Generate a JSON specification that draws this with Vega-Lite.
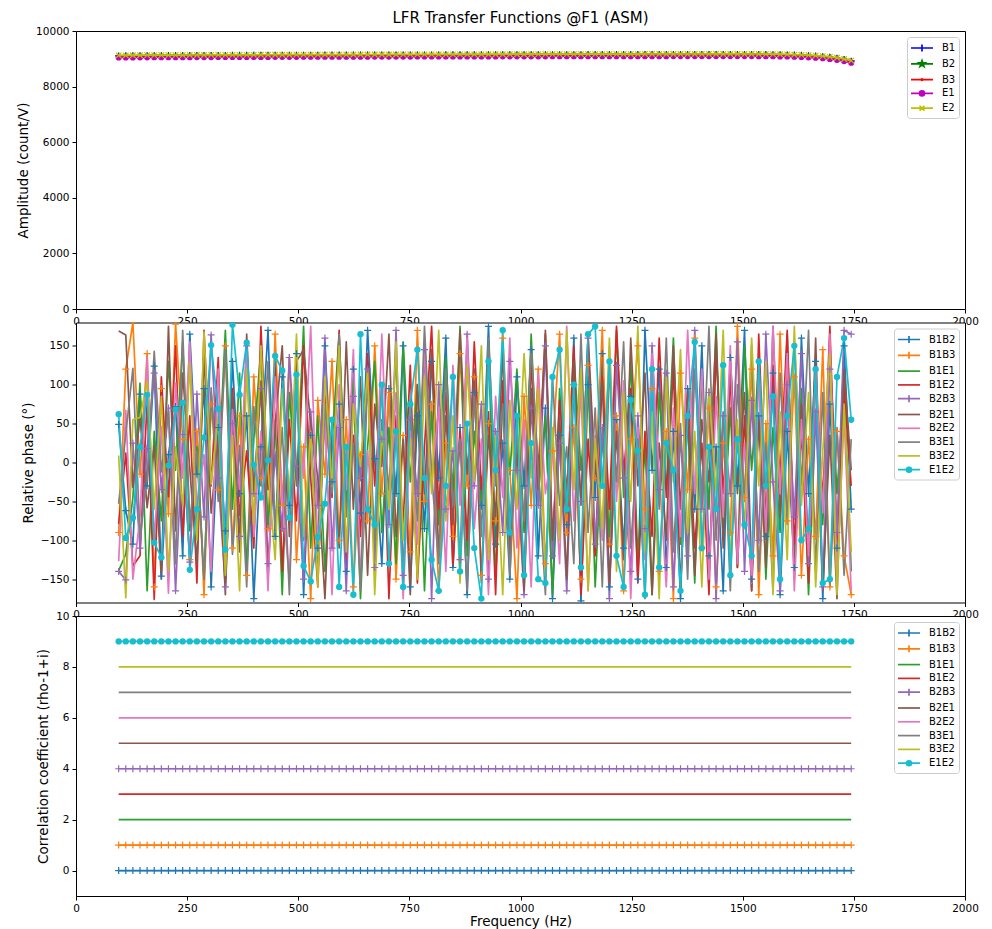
{
"$schema": "https://vega.github.io/schema/vega-lite/v6.json",
"autosize": {"type": "pad"},
"padding": {"left": 16, "top": 10, "right": 5, "bottom": 5},
"background": "white",
"bounds": "flush",
"spacing": 13.5,
"config": {
  "font": "DejaVu Sans",
  "view": {"stroke": "#000000", "strokeWidth": 1, "fill": "white"},
  "axis": {"grid": false, "domain": false, "tickColor": "#000000", "tickSize": 4, "tickWidth": 1, "labelColor": "#000000", "labelFontSize": 10.5, "labelFont": "DejaVu Sans", "titleFont": "DejaVu Sans", "titleFontSize": 13.5, "titleFontWeight": "normal", "titleColor": "#000000", "labelPadding": 3, "titlePadding": 5, "labelFlush": false, "labelOverlap": false, "format": "d", "labelExpr": "replace(datum.label, '-', '−')"},
  "legend": {"orient": "top-right", "offset": 6, "padding": 3, "strokeColor": "#cccccc", "fillColor": "#ffffff", "cornerRadius": 3, "labelFontSize": 10, "labelColor": "#000000", "labelFont": "DejaVu Sans", "symbolSize": 196, "symbolStrokeWidth": 1.7, "symbolOpacity": 1, "symbolOffset": 4, "rowPadding": 0.8, "labelOffset": 12}
},
"datasets": {
"tf": [
{"f":96,"B1":9105,"B2":9095,"B3":9087,"E1":9047,"E2":9123,"B1B2":49,"B1B3":-90,"B1E1":-139,"B1E2":-79,"B2B3":-140,"B2E1":169,"B2E2":-127,"B3E1":-53,"B3E2":9,"E1E2":62},
{"f":112,"B1":9107,"B2":9097,"B3":9089,"E1":9049,"E2":9125,"B1B2":-62,"B1B3":120,"B1E1":-118,"B1E2":12,"B2B3":-151,"B2E1":164,"B2E2":67,"B3E1":37,"B3E2":-174,"E1E2":-97},
{"f":128,"B1":9109,"B2":9099,"B3":9091,"E1":9051,"E2":9127,"B1B2":-105,"B1B3":180,"B1E1":-45,"B1E2":-133,"B2B3":25,"B2E1":-32,"B2E2":-150,"B3E1":121,"B3E2":55,"E1E2":-71},
{"f":144,"B1":9110,"B2":9100,"B3":9092,"E1":9052,"E2":9128,"B1B2":88,"B1B3":-15,"B1E1":102,"B1E2":-120,"B2B3":-110,"B2E1":60,"B2E2":-70,"B3E1":-95,"B3E2":58,"E1E2":20},
{"f":160,"B1":9112,"B2":9102,"B3":9094,"E1":9054,"E2":9130,"B1B2":-30,"B1B3":140,"B1E1":-165,"B1E2":80,"B2B3":18,"B2E1":-58,"B2E2":136,"B3E1":-20,"B3E2":104,"E1E2":87},
{"f":176,"B1":9113,"B2":9103,"B3":9095,"E1":9055,"E2":9131,"B1B2":124,"B1B3":-160,"B1E1":40,"B1E2":-176,"B2B3":115,"B2E1":22,"B2E2":-101,"B3E1":143,"B3E2":-60,"E1E2":-103},
{"f":192,"B1":9114,"B2":9104,"B3":9096,"E1":9056,"E2":9132,"B1B2":-146,"B1B3":95,"B1E1":-75,"B1E2":110,"B2B3":-35,"B2E1":-150,"B2E2":46,"B3E1":-12,"B3E2":85,"E1E2":-122},
{"f":208,"B1":9115,"B2":9105,"B3":9097,"E1":9057,"E2":9133,"B1B2":10,"B1B3":-66,"B1E1":130,"B1E2":-44,"B2B3":70,"B2E1":175,"B2E2":-168,"B3E1":66,"B3E2":-140,"E1E2":-4},
{"f":224,"B1":9116,"B2":9106,"B3":9098,"E1":9058,"E2":9134,"B1B2":72,"B1B3":178,"B1E1":-10,"B1E2":150,"B2B3":-165,"B2E1":-88,"B2E2":102,"B3E1":-130,"B3E2":20,"E1E2":68},
{"f":240,"B1":9117,"B2":9107,"B3":9099,"E1":9059,"E2":9135,"B1B2":-120,"B1B3":30,"B1E1":155,"B1E2":-95,"B2B3":36,"B2E1":115,"B2E2":-20,"B3E1":170,"B3E2":-55,"E1E2":77},
{"f":256,"B1":9118,"B2":9108,"B3":9100,"E1":9060,"E2":9136,"B1B2":165,"B1B3":-125,"B1E1":-88,"B1E2":60,"B2B3":-128,"B2E1":-8,"B2E2":155,"B3E1":-78,"B3E2":128,"E1E2":-138},
{"f":272,"B1":9119,"B2":9109,"B3":9101,"E1":9061,"E2":9137,"B1B2":-15,"B1B3":40,"B1E1":20,"B1E2":-155,"B2B3":88,"B2E1":-130,"B2E2":-60,"B3E1":14,"B3E2":-100,"E1E2":-60},
{"f":288,"B1":9120,"B2":9110,"B3":9102,"E1":9062,"E2":9138,"B1B2":95,"B1B3":-170,"B1E1":-150,"B1E2":170,"B2B3":-70,"B2E1":140,"B2E2":10,"B3E1":-150,"B3E2":168,"E1E2":32},
{"f":304,"B1":9121,"B2":9111,"B3":9103,"E1":9063,"E2":9139,"B1B2":-160,"B1B3":75,"B1E1":90,"B1E2":-30,"B2B3":164,"B2E1":-65,"B2E2":-140,"B3E1":96,"B3E2":-28,"E1E2":151},
{"f":320,"B1":9122,"B2":9112,"B3":9104,"E1":9064,"E2":9140,"B1B2":45,"B1B3":-35,"B1E1":-20,"B1E2":135,"B2B3":-20,"B2E1":30,"B2E2":120,"B3E1":-50,"B3E2":60,"E1E2":69},
{"f":336,"B1":9123,"B2":9113,"B3":9105,"E1":9065,"E2":9141,"B1B2":-88,"B1B3":150,"B1E1":170,"B1E2":-150,"B2B3":-160,"B2E1":-170,"B2E2":-120,"B3E1":150,"B3E2":-145,"E1E2":-112},
{"f":352,"B1":9124,"B2":9114,"B3":9106,"E1":9066,"E2":9142,"B1B2":130,"B1B3":-110,"B1E1":-60,"B1E2":95,"B2B3":50,"B2E1":90,"B2E2":68,"B3E1":-118,"B3E2":35,"E1E2":177},
{"f":368,"B1":9124,"B2":9114,"B3":9106,"E1":9066,"E2":9142,"B1B2":-40,"B1B3":60,"B1E1":115,"B1E2":-68,"B2B3":-95,"B2E1":-115,"B2E2":-35,"B3E1":22,"B3E2":-165,"E1E2":87},
{"f":384,"B1":9125,"B2":9115,"B3":9107,"E1":9067,"E2":9143,"B1B2":60,"B1B3":-145,"B1E1":-135,"B1E2":15,"B2B3":150,"B2E1":165,"B2E2":148,"B3E1":-160,"B3E2":120,"E1E2":154},
{"f":400,"B1":9126,"B2":9116,"B3":9108,"E1":9068,"E2":9144,"B1B2":-175,"B1B3":110,"B1E1":30,"B1E2":-110,"B2B3":-40,"B2E1":-40,"B2E2":-95,"B3E1":72,"B3E2":-80,"E1E2":-3},
{"f":416,"B1":9127,"B2":9117,"B3":9109,"E1":9069,"E2":9145,"B1B2":20,"B1B3":-20,"B1E1":145,"B1E2":175,"B2B3":95,"B2E1":105,"B2E2":40,"B3E1":-30,"B3E2":150,"E1E2":-45},
{"f":432,"B1":9127,"B2":9117,"B3":9109,"E1":9069,"E2":9145,"B1B2":170,"B1B3":-85,"B1E1":-85,"B1E2":-35,"B2B3":-130,"B2E1":-150,"B2E2":-165,"B3E1":130,"B3E2":-10,"E1E2":3},
{"f":448,"B1":9128,"B2":9118,"B3":9110,"E1":9070,"E2":9146,"B1B2":-95,"B1B3":165,"B1E1":55,"B1E2":130,"B2B3":10,"B2E1":50,"B2E2":110,"B3E1":-85,"B3E2":-125,"E1E2":137},
{"f":464,"B1":9129,"B2":9119,"B3":9111,"E1":9071,"E2":9147,"B1B2":110,"B1B3":-55,"B1E1":-170,"B1E2":-140,"B2B3":-85,"B2E1":150,"B2E2":-45,"B3E1":45,"B3E2":95,"E1E2":118},
{"f":480,"B1":9129,"B2":9119,"B3":9111,"E1":9071,"E2":9147,"B1B2":-55,"B1B3":135,"B1E1":90,"B1E2":55,"B2B3":135,"B2E1":-95,"B2E2":-150,"B3E1":-170,"B3E2":-50,"E1E2":-71},
{"f":496,"B1":9130,"B2":9120,"B3":9112,"E1":9072,"E2":9148,"B1B2":140,"B1B3":-125,"B1E1":-30,"B1E2":-75,"B2B3":-5,"B2E1":130,"B2E2":85,"B3E1":100,"B3E2":165,"E1E2":113},
{"f":512,"B1":9131,"B2":9121,"B3":9113,"E1":9073,"E2":9149,"B1B2":-170,"B1B3":20,"B1E1":175,"B1E2":150,"B2B3":-150,"B2E1":145,"B2E2":-20,"B3E1":-100,"B3E2":-95,"E1E2":-133},
{"f":528,"B1":9131,"B2":9121,"B3":9113,"E1":9073,"E2":9149,"B1B2":35,"B1B3":-175,"B1E1":-110,"B1E2":-20,"B2B3":65,"B2E1":50,"B2E2":175,"B3E1":30,"B3E2":40,"E1E2":-153},
{"f":544,"B1":9132,"B2":9122,"B3":9114,"E1":9074,"E2":9150,"B1B2":-110,"B1B3":80,"B1E1":60,"B1E2":-160,"B2B3":-55,"B2E1":-20,"B2E2":-115,"B3E1":-145,"B3E2":-160,"E1E2":-96},
{"f":560,"B1":9133,"B2":9123,"B3":9115,"E1":9075,"E2":9151,"B1B2":150,"B1B3":-15,"B1E1":-140,"B1E2":95,"B2B3":160,"B2E1":-175,"B2E2":55,"B3E1":75,"B3E2":110,"E1E2":-53},
{"f":576,"B1":9133,"B2":9123,"B3":9115,"E1":9075,"E2":9151,"B1B2":-25,"B1B3":130,"B1E1":25,"B1E2":-45,"B2B3":-110,"B2E1":40,"B2E2":-170,"B3E1":-40,"B3E2":-30,"E1E2":55},
{"f":592,"B1":9134,"B2":9124,"B3":9116,"E1":9076,"E2":9152,"B1B2":75,"B1B3":-100,"B1E1":165,"B1E2":170,"B2B3":45,"B2E1":-110,"B2E2":100,"B3E1":165,"B3E2":150,"E1E2":-160},
{"f":608,"B1":9134,"B2":9124,"B3":9116,"E1":9076,"E2":9152,"B1B2":-140,"B1B3":55,"B1E1":-60,"B1E2":-125,"B2B3":-165,"B2E1":155,"B2E2":-35,"B3E1":-70,"B3E2":-115,"E1E2":20},
{"f":624,"B1":9135,"B2":9125,"B3":9117,"E1":9077,"E2":9153,"B1B2":120,"B1B3":-160,"B1E1":105,"B1E2":35,"B2B3":85,"B2E1":-60,"B2E2":145,"B3E1":25,"B3E2":75,"E1E2":-170},
{"f":640,"B1":9136,"B2":9126,"B3":9118,"E1":9078,"E2":9154,"B1B2":-65,"B1B3":10,"B1E1":-175,"B1E2":-95,"B2B3":-20,"B2E1":110,"B2E2":-150,"B3E1":-165,"B3E2":-5,"E1E2":165},
{"f":656,"B1":9136,"B2":9126,"B3":9118,"E1":9078,"E2":9154,"B1B2":170,"B1B3":-75,"B1E1":20,"B1E2":140,"B2B3":120,"B2E1":-145,"B2E2":15,"B3E1":110,"B3E2":120,"E1E2":-60},
{"f":672,"B1":9137,"B2":9127,"B3":9119,"E1":9079,"E2":9155,"B1B2":5,"B1B3":150,"B1E1":130,"B1E2":-30,"B2B3":-135,"B2E1":75,"B2E2":-90,"B3E1":-110,"B3E2":-170,"E1E2":-80},
{"f":688,"B1":9137,"B2":9127,"B3":9119,"E1":9079,"E2":9155,"B1B2":-130,"B1B3":-40,"B1E1":-90,"B1E2":100,"B2B3":30,"B2E1":-5,"B2E2":165,"B3E1":55,"B3E2":40,"E1E2":100},
{"f":704,"B1":9138,"B2":9128,"B3":9120,"E1":9080,"E2":9156,"B1B2":95,"B1B3":90,"B1E1":45,"B1E2":-175,"B2B3":-80,"B2E1":165,"B2E2":-60,"B3E1":-35,"B3E2":-60,"E1E2":-130},
{"f":720,"B1":9138,"B2":9128,"B3":9120,"E1":9080,"E2":9156,"B1B2":-40,"B1B3":-150,"B1E1":-130,"B1E2":60,"B2B3":170,"B2E1":-95,"B2E2":90,"B3E1":140,"B3E2":155,"E1E2":40},
{"f":736,"B1":9139,"B2":9129,"B3":9121,"E1":9081,"E2":9157,"B1B2":150,"B1B3":35,"B1E1":155,"B1E2":-80,"B2B3":-145,"B2E1":30,"B2E2":-175,"B3E1":-150,"B3E2":-100,"E1E2":-160},
{"f":752,"B1":9139,"B2":9129,"B3":9121,"E1":9081,"E2":9157,"B1B2":-160,"B1B3":-115,"B1E1":-25,"B1E2":125,"B2B3":55,"B2E1":-170,"B2E2":40,"B3E1":80,"B3E2":30,"E1E2":75},
{"f":768,"B1":9140,"B2":9130,"B3":9122,"E1":9082,"E2":9158,"B1B2":60,"B1B3":170,"B1E1":100,"B1E2":-155,"B2B3":-40,"B2E1":100,"B2E2":-105,"B3E1":-75,"B3E2":-150,"E1E2":145},
{"f":784,"B1":9140,"B2":9130,"B3":9122,"E1":9082,"E2":9158,"B1B2":-85,"B1B3":-50,"B1E1":-165,"B1E2":20,"B2B3":145,"B2E1":-40,"B2E2":150,"B3E1":175,"B3E2":110,"E1E2":-20},
{"f":800,"B1":9141,"B2":9131,"B3":9123,"E1":9083,"E2":9159,"B1B2":130,"B1B3":75,"B1E1":65,"B1E2":175,"B2B3":-175,"B2E1":145,"B2E2":-20,"B3E1":-15,"B3E2":-40,"E1E2":-125},
{"f":816,"B1":9141,"B2":9131,"B3":9123,"E1":9083,"E2":9159,"B1B2":-20,"B1B3":-165,"B1E1":-80,"B1E2":-60,"B2B3":100,"B2E1":-120,"B2E2":70,"B3E1":-130,"B3E2":170,"E1E2":-165},
{"f":832,"B1":9142,"B2":9132,"B3":9124,"E1":9084,"E2":9160,"B1B2":160,"B1B3":25,"B1E1":135,"B1E2":90,"B2B3":-60,"B2E1":60,"B2E2":-140,"B3E1":120,"B3E2":-75,"E1E2":-30},
{"f":848,"B1":9142,"B2":9132,"B3":9124,"E1":9084,"E2":9160,"B1B2":-135,"B1B3":-95,"B1E1":-40,"B1E2":-135,"B2B3":15,"B2E1":-80,"B2E2":125,"B3E1":-55,"B3E2":60,"E1E2":110},
{"f":864,"B1":9143,"B2":9133,"B3":9125,"E1":9085,"E2":9161,"B1B2":45,"B1B3":140,"B1E1":175,"B1E2":40,"B2B3":-125,"B2E1":170,"B2E2":-55,"B3E1":30,"B3E2":-155,"E1E2":-140},
{"f":880,"B1":9143,"B2":9133,"B3":9125,"E1":9085,"E2":9161,"B1B2":-170,"B1B3":-30,"B1E1":-120,"B1E2":-100,"B2B3":165,"B2E1":-15,"B2E2":165,"B3E1":-165,"B3E2":125,"E1E2":50},
{"f":896,"B1":9144,"B2":9134,"B3":9126,"E1":9086,"E2":9162,"B1B2":90,"B1B3":110,"B1E1":40,"B1E2":155,"B2B3":-30,"B2E1":120,"B2E2":-85,"B3E1":90,"B3E2":-25,"E1E2":-110},
{"f":912,"B1":9144,"B2":9134,"B3":9126,"E1":9086,"E2":9162,"B1B2":-55,"B1B3":-145,"B1E1":-60,"B1E2":-35,"B2B3":75,"B2E1":-155,"B2E2":30,"B3E1":-95,"B3E2":150,"E1E2":-175},
{"f":928,"B1":9145,"B2":9135,"B3":9127,"E1":9087,"E2":9163,"B1B2":175,"B1B3":50,"B1E1":150,"B1E2":65,"B2B3":-150,"B2E1":35,"B2E2":-170,"B3E1":160,"B3E2":-125,"E1E2":130},
{"f":944,"B1":9145,"B2":9135,"B3":9127,"E1":9087,"E2":9163,"B1B2":-105,"B1B3":-75,"B1E1":-150,"B1E2":-170,"B2B3":40,"B2E1":-70,"B2E2":85,"B3E1":-30,"B3E2":35,"E1E2":-10},
{"f":960,"B1":9146,"B2":9136,"B3":9128,"E1":9088,"E2":9164,"B1B2":25,"B1B3":160,"B1E1":85,"B1E2":105,"B2B3":-90,"B2E1":145,"B2E2":-45,"B3E1":75,"B3E2":-170,"E1E2":170},
{"f":976,"B1":9146,"B2":9136,"B3":9128,"E1":9088,"E2":9164,"B1B2":-150,"B1B3":-10,"B1E1":-15,"B1E2":-80,"B2B3":130,"B2E1":-120,"B2E2":160,"B3E1":-145,"B3E2":80,"E1E2":-90},
{"f":992,"B1":9147,"B2":9137,"B3":9129,"E1":9089,"E2":9165,"B1B2":110,"B1B3":-175,"B1E1":120,"B1E2":45,"B2B3":-10,"B2E1":20,"B2E2":-110,"B3E1":40,"B3E2":-60,"E1E2":60},
{"f":1008,"B1":9147,"B2":9137,"B3":9129,"E1":9089,"E2":9165,"B1B2":-30,"B1B3":85,"B1E1":-90,"B1E2":-150,"B2B3":-170,"B2E1":-165,"B2E2":55,"B3E1":-75,"B3E2":140,"E1E2":-145},
{"f":1024,"B1":9147,"B2":9137,"B3":9129,"E1":9089,"E2":9165,"B1B2":145,"B1B3":-55,"B1E1":165,"B1E2":130,"B2B3":70,"B2E1":95,"B2E2":-160,"B3E1":150,"B3E2":-20,"E1E2":25},
{"f":1040,"B1":9148,"B2":9138,"B3":9130,"E1":9090,"E2":9166,"B1B2":-120,"B1B3":120,"B1E1":-40,"B1E2":-10,"B2B3":-55,"B2E1":-35,"B2E2":115,"B3E1":-10,"B3E2":95,"E1E2":-150},
{"f":1056,"B1":9148,"B2":9138,"B3":9130,"E1":9090,"E2":9166,"B1B2":70,"B1B3":-130,"B1E1":60,"B1E2":165,"B2B3":150,"B2E1":170,"B2E2":-40,"B3E1":-170,"B3E2":-145,"E1E2":-155},
{"f":1072,"B1":9149,"B2":9139,"B3":9131,"E1":9091,"E2":9167,"B1B2":-175,"B1B3":15,"B1E1":-170,"B1E2":-105,"B2B3":-120,"B2E1":-100,"B2E2":20,"B3E1":110,"B3E2":45,"E1E2":110},
{"f":1088,"B1":9149,"B2":9139,"B3":9131,"E1":9091,"E2":9167,"B1B2":35,"B1B3":165,"B1E1":95,"B1E2":80,"B2B3":25,"B2E1":60,"B2E2":-130,"B3E1":-55,"B3E2":-100,"E1E2":145},
{"f":1104,"B1":9150,"B2":9140,"B3":9132,"E1":9092,"E2":9168,"B1B2":-80,"B1B3":-90,"B1E1":-65,"B1E2":-40,"B2B3":-165,"B2E1":-150,"B2E2":175,"B3E1":20,"B3E2":170,"E1E2":-60},
{"f":1120,"B1":9150,"B2":9140,"B3":9132,"E1":9092,"E2":9168,"B1B2":160,"B1B3":45,"B1E1":140,"B1E2":150,"B2B3":100,"B2E1":130,"B2E2":-75,"B3E1":-130,"B3E2":-35,"E1E2":100},
{"f":1136,"B1":9150,"B2":9140,"B3":9132,"E1":9092,"E2":9168,"B1B2":-178,"B1B3":-150,"B1E1":-10,"B1E2":-170,"B2B3":-50,"B2E1":-55,"B2E2":95,"B3E1":165,"B3E2":120,"E1E2":-135},
{"f":1152,"B1":9151,"B2":9141,"B3":9133,"E1":9093,"E2":9169,"B1B2":100,"B1B3":125,"B1E1":110,"B1E2":30,"B2B3":160,"B2E1":165,"B2E2":-165,"B3E1":-90,"B3E2":-165,"E1E2":165},
{"f":1168,"B1":9151,"B2":9141,"B3":9133,"E1":9093,"E2":9169,"B1B2":-45,"B1B3":-20,"B1E1":-160,"B1E2":-120,"B2B3":-105,"B2E1":-20,"B2E2":35,"B3E1":70,"B3E2":30,"E1E2":175},
{"f":1184,"B1":9152,"B2":9142,"B3":9134,"E1":9094,"E2":9170,"B1B2":140,"B1B3":170,"B1E1":35,"B1E2":110,"B2B3":45,"B2E1":105,"B2E2":-100,"B3E1":-160,"B3E2":-85,"E1E2":-30},
{"f":1200,"B1":9152,"B2":9142,"B3":9134,"E1":9094,"E2":9170,"B1B2":-160,"B1B3":-105,"B1E1":-95,"B1E2":-60,"B2B3":-175,"B2E1":-160,"B2E2":150,"B3E1":120,"B3E2":160,"E1E2":130},
{"f":1216,"B1":9152,"B2":9142,"B3":9134,"E1":9094,"E2":9170,"B1B2":55,"B1B3":60,"B1E1":170,"B1E2":175,"B2B3":125,"B2E1":40,"B2E2":-50,"B3E1":-25,"B3E2":-140,"E1E2":-120},
{"f":1232,"B1":9153,"B2":9143,"B3":9135,"E1":9095,"E2":9171,"B1B2":-110,"B1B3":-165,"B1E1":-45,"B1E2":-15,"B2B3":-20,"B2E1":-125,"B2E2":105,"B3E1":155,"B3E2":90,"E1E2":-160},
{"f":1248,"B1":9153,"B2":9143,"B3":9135,"E1":9095,"E2":9171,"B1B2":85,"B1B3":30,"B1E1":130,"B1E2":95,"B2B3":-140,"B2E1":160,"B2E2":-175,"B3E1":-110,"B3E2":-50,"E1E2":80},
{"f":1264,"B1":9153,"B2":9143,"B3":9135,"E1":9095,"E2":9171,"B1B2":-150,"B1B3":150,"B1E1":-125,"B1E2":-155,"B2B3":60,"B2E1":-30,"B2E2":45,"B3E1":30,"B3E2":175,"E1E2":15},
{"f":1280,"B1":9154,"B2":9144,"B3":9136,"E1":9096,"E2":9172,"B1B2":170,"B1B3":-60,"B1E1":20,"B1E2":40,"B2B3":-85,"B2E1":115,"B2E2":-125,"B3E1":-175,"B3E2":-115,"E1E2":-170},
{"f":1296,"B1":9154,"B2":9144,"B3":9136,"E1":9096,"E2":9172,"B1B2":-10,"B1B3":95,"B1E1":-170,"B1E2":-95,"B2B3":150,"B2E1":-170,"B2E2":140,"B3E1":95,"B3E2":65,"E1E2":120},
{"f":1312,"B1":9154,"B2":9144,"B3":9136,"E1":9096,"E2":9172,"B1B2":120,"B1B3":-140,"B1E1":90,"B1E2":160,"B2B3":-35,"B2E1":25,"B2E2":-15,"B3E1":-60,"B3E2":-175,"E1E2":-135},
{"f":1328,"B1":9154,"B2":9144,"B3":9136,"E1":9096,"E2":9172,"B1B2":-135,"B1B3":40,"B1E1":-35,"B1E2":-45,"B2B3":115,"B2E1":-100,"B2E2":-160,"B3E1":160,"B3E2":110,"E1E2":25},
{"f":1344,"B1":9155,"B2":9145,"B3":9137,"E1":9097,"E2":9173,"B1B2":40,"B1B3":-175,"B1E1":160,"B1E2":120,"B2B3":-160,"B2E1":150,"B2E2":70,"B3E1":-115,"B3E2":-25,"E1E2":-10},
{"f":1360,"B1":9155,"B2":9145,"B3":9137,"E1":9097,"E2":9173,"B1B2":-175,"B1B3":115,"B1E1":-105,"B1E2":-165,"B2B3":35,"B2E1":-60,"B2E2":-95,"B3E1":50,"B3E2":145,"E1E2":-165},
{"f":1376,"B1":9155,"B2":9145,"B3":9137,"E1":9097,"E2":9173,"B1B2":95,"B1B3":-35,"B1E1":55,"B1E2":70,"B2B3":-120,"B2E1":95,"B2E2":170,"B3E1":-150,"B3E2":-90,"E1E2":60},
{"f":1392,"B1":9155,"B2":9145,"B3":9137,"E1":9097,"E2":9173,"B1B2":-60,"B1B3":160,"B1E1":-155,"B1E2":-110,"B2B3":170,"B2E1":-145,"B2E2":-40,"B3E1":120,"B3E2":40,"E1E2":155},
{"f":1408,"B1":9155,"B2":9145,"B3":9137,"E1":9097,"E2":9173,"B1B2":150,"B1B3":-110,"B1E1":115,"B1E2":25,"B2B3":-60,"B2E1":55,"B2E2":120,"B3E1":-45,"B3E2":-160,"E1E2":-110},
{"f":1424,"B1":9156,"B2":9146,"B3":9138,"E1":9098,"E2":9174,"B1B2":-120,"B1B3":70,"B1E1":-60,"B1E2":-170,"B2B3":90,"B2E1":-25,"B2E2":-150,"B3E1":175,"B3E2":95,"E1E2":20},
{"f":1440,"B1":9156,"B2":9146,"B3":9138,"E1":9098,"E2":9174,"B1B2":20,"B1B3":-160,"B1E1":175,"B1E2":145,"B2B3":-175,"B2E1":165,"B2E2":85,"B3E1":-100,"B3E2":-40,"E1E2":-60},
{"f":1456,"B1":9156,"B2":9146,"B3":9138,"E1":9098,"E2":9174,"B1B2":-165,"B1B3":25,"B1E1":-100,"B1E2":-40,"B2B3":60,"B2E1":-110,"B2E2":-70,"B3E1":65,"B3E2":170,"E1E2":125},
{"f":1472,"B1":9156,"B2":9146,"B3":9138,"E1":9098,"E2":9174,"B1B2":135,"B1B3":-90,"B1E1":70,"B1E2":110,"B2B3":-40,"B2E1":130,"B2E2":150,"B3E1":-165,"B3E2":-130,"E1E2":-145},
{"f":1488,"B1":9156,"B2":9146,"B3":9138,"E1":9098,"E2":9174,"B1B2":-30,"B1B3":175,"B1E1":-135,"B1E2":-135,"B2B3":155,"B2E1":-40,"B2E2":-130,"B3E1":100,"B3E2":55,"E1E2":30},
{"f":1504,"B1":9155,"B2":9145,"B3":9137,"E1":9097,"E2":9173,"B1B2":170,"B1B3":-45,"B1E1":150,"B1E2":60,"B2B3":-140,"B2E1":90,"B2E2":25,"B3E1":-50,"B3E2":-85,"E1E2":-80},
{"f":1520,"B1":9155,"B2":9145,"B3":9137,"E1":9097,"E2":9173,"B1B2":-150,"B1B3":120,"B1E1":-10,"B1E2":-165,"B2B3":80,"B2E1":-165,"B2E2":-155,"B3E1":150,"B3E2":160,"E1E2":-120},
{"f":1536,"B1":9154,"B2":9144,"B3":9136,"E1":9096,"E2":9172,"B1B2":60,"B1B3":-170,"B1E1":125,"B1E2":165,"B2B3":-100,"B2E1":55,"B2E2":110,"B3E1":-140,"B3E2":-30,"E1E2":130},
{"f":1552,"B1":9152,"B2":9142,"B3":9134,"E1":9094,"E2":9170,"B1B2":-95,"B1B3":50,"B1E1":-150,"B1E2":-75,"B2B3":165,"B2E1":-135,"B2E2":-90,"B3E1":25,"B3E2":130,"E1E2":-30},
{"f":1568,"B1":9149,"B2":9139,"B3":9131,"E1":9091,"E2":9167,"B1B2":115,"B1B3":-120,"B1E1":45,"B1E2":125,"B2B3":-25,"B2E1":175,"B2E2":175,"B3E1":-165,"B3E2":-170,"E1E2":85},
{"f":1584,"B1":9145,"B2":9135,"B3":9127,"E1":9087,"E2":9163,"B1B2":-170,"B1B3":165,"B1E1":-90,"B1E2":-20,"B2B3":-165,"B2E1":-70,"B2E2":-40,"B3E1":115,"B3E2":65,"E1E2":-150},
{"f":1600,"B1":9140,"B2":9130,"B3":9122,"E1":9082,"E2":9158,"B1B2":40,"B1B3":-75,"B1E1":165,"B1E2":170,"B2B3":100,"B2E1":120,"B2E2":140,"B3E1":-80,"B3E2":-125,"E1E2":60},
{"f":1616,"B1":9133,"B2":9123,"B3":9115,"E1":9075,"E2":9151,"B1B2":-135,"B1B3":110,"B1E1":-125,"B1E2":-105,"B2B3":-70,"B2E1":-150,"B2E2":-165,"B3E1":155,"B3E2":175,"E1E2":150},
{"f":1632,"B1":9124,"B2":9114,"B3":9106,"E1":9066,"E2":9142,"B1B2":160,"B1B3":-145,"B1E1":95,"B1E2":40,"B2B3":140,"B2E1":75,"B2E2":55,"B3E1":-30,"B3E2":-55,"E1E2":-100},
{"f":1648,"B1":9112,"B2":9102,"B3":9094,"E1":9054,"E2":9130,"B1B2":-40,"B1B3":30,"B1E1":-170,"B1E2":-155,"B2B3":-130,"B2E1":-120,"B2E2":-120,"B3E1":170,"B3E2":90,"E1E2":-85},
{"f":1664,"B1":9097,"B2":9087,"B3":9079,"E1":9039,"E2":9115,"B1B2":130,"B1B3":-95,"B1E1":60,"B1E2":110,"B2B3":65,"B2E1":160,"B2E2":120,"B3E1":-140,"B3E2":-160,"E1E2":120},
{"f":1680,"B1":9078,"B2":9068,"B3":9060,"E1":9020,"E2":9096,"B1B2":-175,"B1B3":145,"B1E1":-80,"B1E2":-50,"B2B3":-160,"B2E1":-165,"B2E2":-65,"B3E1":90,"B3E2":15,"E1E2":-155},
{"f":1696,"B1":9053,"B2":9043,"B3":9035,"E1":8995,"E2":9071,"B1B2":75,"B1B3":-160,"B1E1":140,"B1E2":175,"B2B3":120,"B2E1":35,"B2E2":165,"B3E1":-160,"B3E2":140,"E1E2":-150},
{"f":1712,"B1":9020,"B2":9010,"B3":9002,"E1":8962,"E2":9038,"B1B2":-110,"B1B3":40,"B1E1":-40,"B1E2":-100,"B2B3":-90,"B2E1":-175,"B2E2":-145,"B3E1":45,"B3E2":-170,"E1E2":110},
{"f":1728,"B1":8975,"B2":8965,"B3":8957,"E1":8917,"E2":8993,"B1B2":150,"B1B3":-120,"B1E1":100,"B1E2":95,"B2B3":170,"B2E1":120,"B2E2":60,"B3E1":-145,"B3E2":75,"E1E2":160},
{"f":1744,"B1":8915,"B2":8905,"B3":8897,"E1":8857,"E2":8933,"B1B2":-60,"B1B3":-170,"B1E1":-140,"B1E2":-30,"B2B3":165,"B2E1":-10,"B2E2":-165,"B3E1":30,"B3E2":-115,"E1E2":55}
],
"corr": [
{"f":96,"B1B2":0,"B1B3":1,"B1E1":2,"B1E2":3,"B2B3":4,"B2E1":5,"B2E2":6,"B3E1":7,"B3E2":8,"E1E2":9},
{"f":112,"B1B2":0,"B1B3":1,"B1E1":2,"B1E2":3,"B2B3":4,"B2E1":5,"B2E2":6,"B3E1":7,"B3E2":8,"E1E2":9},
{"f":128,"B1B2":0,"B1B3":1,"B1E1":2,"B1E2":3,"B2B3":4,"B2E1":5,"B2E2":6,"B3E1":7,"B3E2":8,"E1E2":9},
{"f":144,"B1B2":0,"B1B3":1,"B1E1":2,"B1E2":3,"B2B3":4,"B2E1":5,"B2E2":6,"B3E1":7,"B3E2":8,"E1E2":9},
{"f":160,"B1B2":0,"B1B3":1,"B1E1":2,"B1E2":3,"B2B3":4,"B2E1":5,"B2E2":6,"B3E1":7,"B3E2":8,"E1E2":9},
{"f":176,"B1B2":0,"B1B3":1,"B1E1":2,"B1E2":3,"B2B3":4,"B2E1":5,"B2E2":6,"B3E1":7,"B3E2":8,"E1E2":9},
{"f":192,"B1B2":0,"B1B3":1,"B1E1":2,"B1E2":3,"B2B3":4,"B2E1":5,"B2E2":6,"B3E1":7,"B3E2":8,"E1E2":9},
{"f":208,"B1B2":0,"B1B3":1,"B1E1":2,"B1E2":3,"B2B3":4,"B2E1":5,"B2E2":6,"B3E1":7,"B3E2":8,"E1E2":9},
{"f":224,"B1B2":0,"B1B3":1,"B1E1":2,"B1E2":3,"B2B3":4,"B2E1":5,"B2E2":6,"B3E1":7,"B3E2":8,"E1E2":9},
{"f":240,"B1B2":0,"B1B3":1,"B1E1":2,"B1E2":3,"B2B3":4,"B2E1":5,"B2E2":6,"B3E1":7,"B3E2":8,"E1E2":9},
{"f":256,"B1B2":0,"B1B3":1,"B1E1":2,"B1E2":3,"B2B3":4,"B2E1":5,"B2E2":6,"B3E1":7,"B3E2":8,"E1E2":9},
{"f":272,"B1B2":0,"B1B3":1,"B1E1":2,"B1E2":3,"B2B3":4,"B2E1":5,"B2E2":6,"B3E1":7,"B3E2":8,"E1E2":9},
{"f":288,"B1B2":0,"B1B3":1,"B1E1":2,"B1E2":3,"B2B3":4,"B2E1":5,"B2E2":6,"B3E1":7,"B3E2":8,"E1E2":9},
{"f":304,"B1B2":0,"B1B3":1,"B1E1":2,"B1E2":3,"B2B3":4,"B2E1":5,"B2E2":6,"B3E1":7,"B3E2":8,"E1E2":9},
{"f":320,"B1B2":0,"B1B3":1,"B1E1":2,"B1E2":3,"B2B3":4,"B2E1":5,"B2E2":6,"B3E1":7,"B3E2":8,"E1E2":9},
{"f":336,"B1B2":0,"B1B3":1,"B1E1":2,"B1E2":3,"B2B3":4,"B2E1":5,"B2E2":6,"B3E1":7,"B3E2":8,"E1E2":9},
{"f":352,"B1B2":0,"B1B3":1,"B1E1":2,"B1E2":3,"B2B3":4,"B2E1":5,"B2E2":6,"B3E1":7,"B3E2":8,"E1E2":9},
{"f":368,"B1B2":0,"B1B3":1,"B1E1":2,"B1E2":3,"B2B3":4,"B2E1":5,"B2E2":6,"B3E1":7,"B3E2":8,"E1E2":9},
{"f":384,"B1B2":0,"B1B3":1,"B1E1":2,"B1E2":3,"B2B3":4,"B2E1":5,"B2E2":6,"B3E1":7,"B3E2":8,"E1E2":9},
{"f":400,"B1B2":0,"B1B3":1,"B1E1":2,"B1E2":3,"B2B3":4,"B2E1":5,"B2E2":6,"B3E1":7,"B3E2":8,"E1E2":9},
{"f":416,"B1B2":0,"B1B3":1,"B1E1":2,"B1E2":3,"B2B3":4,"B2E1":5,"B2E2":6,"B3E1":7,"B3E2":8,"E1E2":9},
{"f":432,"B1B2":0,"B1B3":1,"B1E1":2,"B1E2":3,"B2B3":4,"B2E1":5,"B2E2":6,"B3E1":7,"B3E2":8,"E1E2":9},
{"f":448,"B1B2":0,"B1B3":1,"B1E1":2,"B1E2":3,"B2B3":4,"B2E1":5,"B2E2":6,"B3E1":7,"B3E2":8,"E1E2":9},
{"f":464,"B1B2":0,"B1B3":1,"B1E1":2,"B1E2":3,"B2B3":4,"B2E1":5,"B2E2":6,"B3E1":7,"B3E2":8,"E1E2":9},
{"f":480,"B1B2":0,"B1B3":1,"B1E1":2,"B1E2":3,"B2B3":4,"B2E1":5,"B2E2":6,"B3E1":7,"B3E2":8,"E1E2":9},
{"f":496,"B1B2":0,"B1B3":1,"B1E1":2,"B1E2":3,"B2B3":4,"B2E1":5,"B2E2":6,"B3E1":7,"B3E2":8,"E1E2":9},
{"f":512,"B1B2":0,"B1B3":1,"B1E1":2,"B1E2":3,"B2B3":4,"B2E1":5,"B2E2":6,"B3E1":7,"B3E2":8,"E1E2":9},
{"f":528,"B1B2":0,"B1B3":1,"B1E1":2,"B1E2":3,"B2B3":4,"B2E1":5,"B2E2":6,"B3E1":7,"B3E2":8,"E1E2":9},
{"f":544,"B1B2":0,"B1B3":1,"B1E1":2,"B1E2":3,"B2B3":4,"B2E1":5,"B2E2":6,"B3E1":7,"B3E2":8,"E1E2":9},
{"f":560,"B1B2":0,"B1B3":1,"B1E1":2,"B1E2":3,"B2B3":4,"B2E1":5,"B2E2":6,"B3E1":7,"B3E2":8,"E1E2":9},
{"f":576,"B1B2":0,"B1B3":1,"B1E1":2,"B1E2":3,"B2B3":4,"B2E1":5,"B2E2":6,"B3E1":7,"B3E2":8,"E1E2":9},
{"f":592,"B1B2":0,"B1B3":1,"B1E1":2,"B1E2":3,"B2B3":4,"B2E1":5,"B2E2":6,"B3E1":7,"B3E2":8,"E1E2":9},
{"f":608,"B1B2":0,"B1B3":1,"B1E1":2,"B1E2":3,"B2B3":4,"B2E1":5,"B2E2":6,"B3E1":7,"B3E2":8,"E1E2":9},
{"f":624,"B1B2":0,"B1B3":1,"B1E1":2,"B1E2":3,"B2B3":4,"B2E1":5,"B2E2":6,"B3E1":7,"B3E2":8,"E1E2":9},
{"f":640,"B1B2":0,"B1B3":1,"B1E1":2,"B1E2":3,"B2B3":4,"B2E1":5,"B2E2":6,"B3E1":7,"B3E2":8,"E1E2":9},
{"f":656,"B1B2":0,"B1B3":1,"B1E1":2,"B1E2":3,"B2B3":4,"B2E1":5,"B2E2":6,"B3E1":7,"B3E2":8,"E1E2":9},
{"f":672,"B1B2":0,"B1B3":1,"B1E1":2,"B1E2":3,"B2B3":4,"B2E1":5,"B2E2":6,"B3E1":7,"B3E2":8,"E1E2":9},
{"f":688,"B1B2":0,"B1B3":1,"B1E1":2,"B1E2":3,"B2B3":4,"B2E1":5,"B2E2":6,"B3E1":7,"B3E2":8,"E1E2":9},
{"f":704,"B1B2":0,"B1B3":1,"B1E1":2,"B1E2":3,"B2B3":4,"B2E1":5,"B2E2":6,"B3E1":7,"B3E2":8,"E1E2":9},
{"f":720,"B1B2":0,"B1B3":1,"B1E1":2,"B1E2":3,"B2B3":4,"B2E1":5,"B2E2":6,"B3E1":7,"B3E2":8,"E1E2":9},
{"f":736,"B1B2":0,"B1B3":1,"B1E1":2,"B1E2":3,"B2B3":4,"B2E1":5,"B2E2":6,"B3E1":7,"B3E2":8,"E1E2":9},
{"f":752,"B1B2":0,"B1B3":1,"B1E1":2,"B1E2":3,"B2B3":4,"B2E1":5,"B2E2":6,"B3E1":7,"B3E2":8,"E1E2":9},
{"f":768,"B1B2":0,"B1B3":1,"B1E1":2,"B1E2":3,"B2B3":4,"B2E1":5,"B2E2":6,"B3E1":7,"B3E2":8,"E1E2":9},
{"f":784,"B1B2":0,"B1B3":1,"B1E1":2,"B1E2":3,"B2B3":4,"B2E1":5,"B2E2":6,"B3E1":7,"B3E2":8,"E1E2":9},
{"f":800,"B1B2":0,"B1B3":1,"B1E1":2,"B1E2":3,"B2B3":4,"B2E1":5,"B2E2":6,"B3E1":7,"B3E2":8,"E1E2":9},
{"f":816,"B1B2":0,"B1B3":1,"B1E1":2,"B1E2":3,"B2B3":4,"B2E1":5,"B2E2":6,"B3E1":7,"B3E2":8,"E1E2":9},
{"f":832,"B1B2":0,"B1B3":1,"B1E1":2,"B1E2":3,"B2B3":4,"B2E1":5,"B2E2":6,"B3E1":7,"B3E2":8,"E1E2":9},
{"f":848,"B1B2":0,"B1B3":1,"B1E1":2,"B1E2":3,"B2B3":4,"B2E1":5,"B2E2":6,"B3E1":7,"B3E2":8,"E1E2":9},
{"f":864,"B1B2":0,"B1B3":1,"B1E1":2,"B1E2":3,"B2B3":4,"B2E1":5,"B2E2":6,"B3E1":7,"B3E2":8,"E1E2":9},
{"f":880,"B1B2":0,"B1B3":1,"B1E1":2,"B1E2":3,"B2B3":4,"B2E1":5,"B2E2":6,"B3E1":7,"B3E2":8,"E1E2":9},
{"f":896,"B1B2":0,"B1B3":1,"B1E1":2,"B1E2":3,"B2B3":4,"B2E1":5,"B2E2":6,"B3E1":7,"B3E2":8,"E1E2":9},
{"f":912,"B1B2":0,"B1B3":1,"B1E1":2,"B1E2":3,"B2B3":4,"B2E1":5,"B2E2":6,"B3E1":7,"B3E2":8,"E1E2":9},
{"f":928,"B1B2":0,"B1B3":1,"B1E1":2,"B1E2":3,"B2B3":4,"B2E1":5,"B2E2":6,"B3E1":7,"B3E2":8,"E1E2":9},
{"f":944,"B1B2":0,"B1B3":1,"B1E1":2,"B1E2":3,"B2B3":4,"B2E1":5,"B2E2":6,"B3E1":7,"B3E2":8,"E1E2":9},
{"f":960,"B1B2":0,"B1B3":1,"B1E1":2,"B1E2":3,"B2B3":4,"B2E1":5,"B2E2":6,"B3E1":7,"B3E2":8,"E1E2":9},
{"f":976,"B1B2":0,"B1B3":1,"B1E1":2,"B1E2":3,"B2B3":4,"B2E1":5,"B2E2":6,"B3E1":7,"B3E2":8,"E1E2":9},
{"f":992,"B1B2":0,"B1B3":1,"B1E1":2,"B1E2":3,"B2B3":4,"B2E1":5,"B2E2":6,"B3E1":7,"B3E2":8,"E1E2":9},
{"f":1008,"B1B2":0,"B1B3":1,"B1E1":2,"B1E2":3,"B2B3":4,"B2E1":5,"B2E2":6,"B3E1":7,"B3E2":8,"E1E2":9},
{"f":1024,"B1B2":0,"B1B3":1,"B1E1":2,"B1E2":3,"B2B3":4,"B2E1":5,"B2E2":6,"B3E1":7,"B3E2":8,"E1E2":9},
{"f":1040,"B1B2":0,"B1B3":1,"B1E1":2,"B1E2":3,"B2B3":4,"B2E1":5,"B2E2":6,"B3E1":7,"B3E2":8,"E1E2":9},
{"f":1056,"B1B2":0,"B1B3":1,"B1E1":2,"B1E2":3,"B2B3":4,"B2E1":5,"B2E2":6,"B3E1":7,"B3E2":8,"E1E2":9},
{"f":1072,"B1B2":0,"B1B3":1,"B1E1":2,"B1E2":3,"B2B3":4,"B2E1":5,"B2E2":6,"B3E1":7,"B3E2":8,"E1E2":9},
{"f":1088,"B1B2":0,"B1B3":1,"B1E1":2,"B1E2":3,"B2B3":4,"B2E1":5,"B2E2":6,"B3E1":7,"B3E2":8,"E1E2":9},
{"f":1104,"B1B2":0,"B1B3":1,"B1E1":2,"B1E2":3,"B2B3":4,"B2E1":5,"B2E2":6,"B3E1":7,"B3E2":8,"E1E2":9},
{"f":1120,"B1B2":0,"B1B3":1,"B1E1":2,"B1E2":3,"B2B3":4,"B2E1":5,"B2E2":6,"B3E1":7,"B3E2":8,"E1E2":9},
{"f":1136,"B1B2":0,"B1B3":1,"B1E1":2,"B1E2":3,"B2B3":4,"B2E1":5,"B2E2":6,"B3E1":7,"B3E2":8,"E1E2":9},
{"f":1152,"B1B2":0,"B1B3":1,"B1E1":2,"B1E2":3,"B2B3":4,"B2E1":5,"B2E2":6,"B3E1":7,"B3E2":8,"E1E2":9},
{"f":1168,"B1B2":0,"B1B3":1,"B1E1":2,"B1E2":3,"B2B3":4,"B2E1":5,"B2E2":6,"B3E1":7,"B3E2":8,"E1E2":9},
{"f":1184,"B1B2":0,"B1B3":1,"B1E1":2,"B1E2":3,"B2B3":4,"B2E1":5,"B2E2":6,"B3E1":7,"B3E2":8,"E1E2":9},
{"f":1200,"B1B2":0,"B1B3":1,"B1E1":2,"B1E2":3,"B2B3":4,"B2E1":5,"B2E2":6,"B3E1":7,"B3E2":8,"E1E2":9},
{"f":1216,"B1B2":0,"B1B3":1,"B1E1":2,"B1E2":3,"B2B3":4,"B2E1":5,"B2E2":6,"B3E1":7,"B3E2":8,"E1E2":9},
{"f":1232,"B1B2":0,"B1B3":1,"B1E1":2,"B1E2":3,"B2B3":4,"B2E1":5,"B2E2":6,"B3E1":7,"B3E2":8,"E1E2":9},
{"f":1248,"B1B2":0,"B1B3":1,"B1E1":2,"B1E2":3,"B2B3":4,"B2E1":5,"B2E2":6,"B3E1":7,"B3E2":8,"E1E2":9},
{"f":1264,"B1B2":0,"B1B3":1,"B1E1":2,"B1E2":3,"B2B3":4,"B2E1":5,"B2E2":6,"B3E1":7,"B3E2":8,"E1E2":9},
{"f":1280,"B1B2":0,"B1B3":1,"B1E1":2,"B1E2":3,"B2B3":4,"B2E1":5,"B2E2":6,"B3E1":7,"B3E2":8,"E1E2":9},
{"f":1296,"B1B2":0,"B1B3":1,"B1E1":2,"B1E2":3,"B2B3":4,"B2E1":5,"B2E2":6,"B3E1":7,"B3E2":8,"E1E2":9},
{"f":1312,"B1B2":0,"B1B3":1,"B1E1":2,"B1E2":3,"B2B3":4,"B2E1":5,"B2E2":6,"B3E1":7,"B3E2":8,"E1E2":9},
{"f":1328,"B1B2":0,"B1B3":1,"B1E1":2,"B1E2":3,"B2B3":4,"B2E1":5,"B2E2":6,"B3E1":7,"B3E2":8,"E1E2":9},
{"f":1344,"B1B2":0,"B1B3":1,"B1E1":2,"B1E2":3,"B2B3":4,"B2E1":5,"B2E2":6,"B3E1":7,"B3E2":8,"E1E2":9},
{"f":1360,"B1B2":0,"B1B3":1,"B1E1":2,"B1E2":3,"B2B3":4,"B2E1":5,"B2E2":6,"B3E1":7,"B3E2":8,"E1E2":9},
{"f":1376,"B1B2":0,"B1B3":1,"B1E1":2,"B1E2":3,"B2B3":4,"B2E1":5,"B2E2":6,"B3E1":7,"B3E2":8,"E1E2":9},
{"f":1392,"B1B2":0,"B1B3":1,"B1E1":2,"B1E2":3,"B2B3":4,"B2E1":5,"B2E2":6,"B3E1":7,"B3E2":8,"E1E2":9},
{"f":1408,"B1B2":0,"B1B3":1,"B1E1":2,"B1E2":3,"B2B3":4,"B2E1":5,"B2E2":6,"B3E1":7,"B3E2":8,"E1E2":9},
{"f":1424,"B1B2":0,"B1B3":1,"B1E1":2,"B1E2":3,"B2B3":4,"B2E1":5,"B2E2":6,"B3E1":7,"B3E2":8,"E1E2":9},
{"f":1440,"B1B2":0,"B1B3":1,"B1E1":2,"B1E2":3,"B2B3":4,"B2E1":5,"B2E2":6,"B3E1":7,"B3E2":8,"E1E2":9},
{"f":1456,"B1B2":0,"B1B3":1,"B1E1":2,"B1E2":3,"B2B3":4,"B2E1":5,"B2E2":6,"B3E1":7,"B3E2":8,"E1E2":9},
{"f":1472,"B1B2":0,"B1B3":1,"B1E1":2,"B1E2":3,"B2B3":4,"B2E1":5,"B2E2":6,"B3E1":7,"B3E2":8,"E1E2":9},
{"f":1488,"B1B2":0,"B1B3":1,"B1E1":2,"B1E2":3,"B2B3":4,"B2E1":5,"B2E2":6,"B3E1":7,"B3E2":8,"E1E2":9},
{"f":1504,"B1B2":0,"B1B3":1,"B1E1":2,"B1E2":3,"B2B3":4,"B2E1":5,"B2E2":6,"B3E1":7,"B3E2":8,"E1E2":9},
{"f":1520,"B1B2":0,"B1B3":1,"B1E1":2,"B1E2":3,"B2B3":4,"B2E1":5,"B2E2":6,"B3E1":7,"B3E2":8,"E1E2":9},
{"f":1536,"B1B2":0,"B1B3":1,"B1E1":2,"B1E2":3,"B2B3":4,"B2E1":5,"B2E2":6,"B3E1":7,"B3E2":8,"E1E2":9},
{"f":1552,"B1B2":0,"B1B3":1,"B1E1":2,"B1E2":3,"B2B3":4,"B2E1":5,"B2E2":6,"B3E1":7,"B3E2":8,"E1E2":9},
{"f":1568,"B1B2":0,"B1B3":1,"B1E1":2,"B1E2":3,"B2B3":4,"B2E1":5,"B2E2":6,"B3E1":7,"B3E2":8,"E1E2":9},
{"f":1584,"B1B2":0,"B1B3":1,"B1E1":2,"B1E2":3,"B2B3":4,"B2E1":5,"B2E2":6,"B3E1":7,"B3E2":8,"E1E2":9},
{"f":1600,"B1B2":0,"B1B3":1,"B1E1":2,"B1E2":3,"B2B3":4,"B2E1":5,"B2E2":6,"B3E1":7,"B3E2":8,"E1E2":9},
{"f":1616,"B1B2":0,"B1B3":1,"B1E1":2,"B1E2":3,"B2B3":4,"B2E1":5,"B2E2":6,"B3E1":7,"B3E2":8,"E1E2":9},
{"f":1632,"B1B2":0,"B1B3":1,"B1E1":2,"B1E2":3,"B2B3":4,"B2E1":5,"B2E2":6,"B3E1":7,"B3E2":8,"E1E2":9},
{"f":1648,"B1B2":0,"B1B3":1,"B1E1":2,"B1E2":3,"B2B3":4,"B2E1":5,"B2E2":6,"B3E1":7,"B3E2":8,"E1E2":9},
{"f":1664,"B1B2":0,"B1B3":1,"B1E1":2,"B1E2":3,"B2B3":4,"B2E1":5,"B2E2":6,"B3E1":7,"B3E2":8,"E1E2":9},
{"f":1680,"B1B2":0,"B1B3":1,"B1E1":2,"B1E2":3,"B2B3":4,"B2E1":5,"B2E2":6,"B3E1":7,"B3E2":8,"E1E2":9},
{"f":1696,"B1B2":0,"B1B3":1,"B1E1":2,"B1E2":3,"B2B3":4,"B2E1":5,"B2E2":6,"B3E1":7,"B3E2":8,"E1E2":9},
{"f":1712,"B1B2":0,"B1B3":1,"B1E1":2,"B1E2":3,"B2B3":4,"B2E1":5,"B2E2":6,"B3E1":7,"B3E2":8,"E1E2":9},
{"f":1728,"B1B2":0,"B1B3":1,"B1E1":2,"B1E2":3,"B2B3":4,"B2E1":5,"B2E2":6,"B3E1":7,"B3E2":8,"E1E2":9},
{"f":1744,"B1B2":0,"B1B3":1,"B1E1":2,"B1E2":3,"B2B3":4,"B2E1":5,"B2E2":6,"B3E1":7,"B3E2":8,"E1E2":9}
]
},
"vconcat": [
{
  "width": 889, "height": 278,
  "title": {"text": "LFR Transfer Functions @F1 (ASM)", "fontSize": 15, "fontWeight": "normal", "font": "DejaVu Sans", "color": "#000000", "anchor": "middle", "frame": "group", "offset": 0},
  "data": {"name": "tf"},
  "transform": [{"fold": ["B1", "B2", "B3", "E1", "E2"], "as": ["s", "v"]}],
  "encoding": {
    "x": {"field": "f", "type": "quantitative", "scale": {"domain": [0, 2000]}, "axis": {"values": [0, 250, 500, 750, 1000, 1250, 1500, 1750, 2000], "title": null}},
    "y": {"field": "v", "type": "quantitative", "scale": {"domain": [0, 10000]}, "axis": {"values": [0, 2000, 4000, 6000, 8000, 10000], "title": "Amplitude (count/V)"}}
  },
  "layer": [
    {"transform": [{"filter": {"field": "s", "equal": "B1"}}], "mark": {"type": "line", "strokeWidth": 1.7, "clip": true, "color": "#0000ff"}},
    {"transform": [{"filter": {"field": "s", "equal": "B1"}}], "mark": {"type": "point", "shape": "M-1,0L1,0M0,-1L0,1", "size": 49, "filled": false, "strokeWidth": 1.2, "opacity": 1, "clip": true, "color": "#0000ff"}},
    {"transform": [{"filter": {"field": "s", "equal": "B2"}}], "mark": {"type": "line", "strokeWidth": 1.7, "clip": true, "color": "#008000"}},
    {"transform": [{"filter": {"field": "s", "equal": "B2"}}], "mark": {"type": "point", "shape": "M0,-1L0.24,-0.33L0.95,-0.31L0.38,0.12L0.59,0.81L0,0.4L-0.59,0.81L-0.38,0.12L-0.95,-0.31L-0.24,-0.33Z", "size": 64, "filled": true, "opacity": 1, "clip": true, "color": "#008000"}},
    {"transform": [{"filter": {"field": "s", "equal": "B3"}}], "mark": {"type": "line", "strokeWidth": 1.7, "clip": true, "color": "#ff0000"}},
    {"transform": [{"filter": {"field": "s", "equal": "B3"}}], "mark": {"type": "circle", "size": 14, "opacity": 1, "clip": true, "color": "#ff0000"}},
    {"transform": [{"filter": {"field": "s", "equal": "E1"}}], "mark": {"type": "line", "strokeWidth": 1.7, "clip": true, "color": "#bf00bf"}},
    {"transform": [{"filter": {"field": "s", "equal": "E1"}}], "mark": {"type": "circle", "size": 38, "opacity": 1, "clip": true, "color": "#bf00bf"}},
    {"transform": [{"filter": {"field": "s", "equal": "E2"}}], "mark": {"type": "line", "strokeWidth": 1.7, "clip": true, "color": "#bfbf00"}},
    {"transform": [{"filter": {"field": "s", "equal": "E2"}}], "mark": {"type": "point", "shape": "M-1,-1L1,1M-1,1L1,-1", "size": 30, "filled": false, "strokeWidth": 1.2, "opacity": 1, "clip": true, "color": "#bfbf00"}},
    {"transform": [{"filter": "datum.f < 0"}], "mark": {"type": "point", "filled": false, "opacity": 1, "strokeWidth": 1.7},
     "encoding": {
       "color": {"field": "s", "type": "nominal", "scale": {"domain": ["B1", "B2", "B3", "E1", "E2"], "range": ["#0000ff", "#008000", "#ff0000", "#bf00bf", "#bfbf00"]}, "legend": {"title": null}},
       "shape": {"field": "s", "type": "nominal", "scale": {"domain": ["B1", "B2", "B3", "E1", "E2"], "range": ["M-1.57,0L1.57,0M0,-0.5L0,0.5", "M-1.57,0L1.57,0M0,-0.47L0.11,-0.16L0.45,-0.15L0.18,0.06L0.28,0.38L0,0.19L-0.28,0.38L-0.18,0.06L-0.45,-0.15L-0.11,-0.16Z", "M-1.57,0L1.57,0M0.12,0A0.12,0.12,0,1,1,-0.12,0A0.12,0.12,0,1,1,0.12,0", "M-1.57,0L1.57,0M0.35,0A0.35,0.35,0,1,1,-0.35,0A0.35,0.35,0,1,1,0.35,0M0.14,0A0.14,0.14,0,1,1,-0.14,0A0.14,0.14,0,1,1,0.14,0", "M-1.57,0L1.57,0M-0.35,-0.35L0.35,0.35M-0.35,0.35L0.35,-0.35"]}, "legend": {"title": null}}
     }}
  ]
},
{
  "width": 889, "height": 280,
  "data": {"name": "tf"},
  "transform": [{"fold": ["B1B2", "B1B3", "B1E1", "B1E2", "B2B3", "B2E1", "B2E2", "B3E1", "B3E2", "E1E2"], "as": ["s", "v"]}],
  "encoding": {
    "x": {"field": "f", "type": "quantitative", "scale": {"domain": [0, 2000]}, "axis": {"values": [0, 250, 500, 750, 1000, 1250, 1500, 1750, 2000], "title": null}},
    "y": {"field": "v", "type": "quantitative", "scale": {"domain": [-180, 180]}, "axis": {"values": [-150, -100, -50, 0, 50, 100, 150], "title": "Relative phase (°)"}}
  },
  "layer": [
    {"mark": {"type": "line", "strokeWidth": 1.7, "clip": true, "strokeJoin": "round"}, "encoding": {"stroke": {"field": "s", "type": "nominal", "scale": {"range": ["#1f77b4", "#ff7f0e", "#2ca02c", "#d62728", "#9467bd", "#8c564b", "#e377c2", "#7f7f7f", "#bcbd22", "#17becf"]}, "legend": null}}},
    {"transform": [{"filter": {"field": "s", "oneOf": ["B1B2", "B1B3", "B2B3"]}}], "mark": {"type": "point", "shape": "M-1,0L1,0M0,-1L0,1", "size": 49, "filled": false, "strokeWidth": 1.2, "opacity": 1, "clip": true}, "encoding": {"stroke": {"field": "s", "type": "nominal", "legend": null}}},
    {"transform": [{"filter": {"field": "s", "equal": "E1E2"}}], "mark": {"type": "circle", "size": 40, "opacity": 1, "clip": true, "color": "#17becf"}},
    {"transform": [{"filter": "datum.f < 0"}], "mark": {"type": "point", "filled": false, "opacity": 1, "strokeWidth": 1.7},
     "encoding": {
       "color": {"field": "s", "type": "nominal", "scale": {"domain": ["B1B2", "B1B3", "B1E1", "B1E2", "B2B3", "B2E1", "B2E2", "B3E1", "B3E2", "E1E2"], "range": ["#1f77b4", "#ff7f0e", "#2ca02c", "#d62728", "#9467bd", "#8c564b", "#e377c2", "#7f7f7f", "#bcbd22", "#17becf"]}, "legend": {"title": null}},
       "shape": {"field": "s", "type": "nominal", "scale": {"domain": ["B1B2", "B1B3", "B1E1", "B1E2", "B2B3", "B2E1", "B2E2", "B3E1", "B3E2", "E1E2"], "range": ["M-1.57,0L1.57,0M0,-0.5L0,0.5", "M-1.57,0L1.57,0M0,-0.5L0,0.5", "M-1.57,0L1.57,0", "M-1.57,0L1.57,0", "M-1.57,0L1.57,0M0,-0.5L0,0.5", "M-1.57,0L1.57,0", "M-1.57,0L1.57,0", "M-1.57,0L1.57,0", "M-1.57,0L1.57,0", "M-1.57,0L1.57,0M0.35,0A0.35,0.35,0,1,1,-0.35,0A0.35,0.35,0,1,1,0.35,0M0.14,0A0.14,0.14,0,1,1,-0.14,0A0.14,0.14,0,1,1,0.14,0"]}, "legend": {"title": null}}
     }}
  ]
},
{
  "width": 889, "height": 280,
  "data": {"name": "corr"},
  "transform": [{"fold": ["B1B2", "B1B3", "B1E1", "B1E2", "B2B3", "B2E1", "B2E2", "B3E1", "B3E2", "E1E2"], "as": ["s", "v"]}],
  "encoding": {
    "x": {"field": "f", "type": "quantitative", "scale": {"domain": [0, 2000]}, "axis": {"values": [0, 250, 500, 750, 1000, 1250, 1500, 1750, 2000], "title": "Frequency (Hz)", "titlePadding": 1}},
    "y": {"field": "v", "type": "quantitative", "scale": {"domain": [-1, 10]}, "axis": {"values": [0, 2, 4, 6, 8, 10], "title": "Correlation coefficient (rho-1+i)"}}
  },
  "layer": [
    {"mark": {"type": "line", "strokeWidth": 1.7, "clip": true}, "encoding": {"stroke": {"field": "s", "type": "nominal", "scale": {"range": ["#1f77b4", "#ff7f0e", "#2ca02c", "#d62728", "#9467bd", "#8c564b", "#e377c2", "#7f7f7f", "#bcbd22", "#17becf"]}, "legend": null}}},
    {"transform": [{"filter": {"field": "s", "oneOf": ["B1B2", "B1B3", "B2B3"]}}], "mark": {"type": "point", "shape": "M-1,0L1,0M0,-1L0,1", "size": 49, "filled": false, "strokeWidth": 1.2, "opacity": 1, "clip": true}, "encoding": {"stroke": {"field": "s", "type": "nominal", "legend": null}}},
    {"transform": [{"filter": {"field": "s", "equal": "E1E2"}}], "mark": {"type": "circle", "size": 40, "opacity": 1, "clip": true, "color": "#17becf"}},
    {"transform": [{"filter": "datum.f < 0"}], "mark": {"type": "point", "filled": false, "opacity": 1, "strokeWidth": 1.7},
     "encoding": {
       "color": {"field": "s", "type": "nominal", "scale": {"domain": ["B1B2", "B1B3", "B1E1", "B1E2", "B2B3", "B2E1", "B2E2", "B3E1", "B3E2", "E1E2"], "range": ["#1f77b4", "#ff7f0e", "#2ca02c", "#d62728", "#9467bd", "#8c564b", "#e377c2", "#7f7f7f", "#bcbd22", "#17becf"]}, "legend": {"title": null}},
       "shape": {"field": "s", "type": "nominal", "scale": {"domain": ["B1B2", "B1B3", "B1E1", "B1E2", "B2B3", "B2E1", "B2E2", "B3E1", "B3E2", "E1E2"], "range": ["M-1.57,0L1.57,0M0,-0.5L0,0.5", "M-1.57,0L1.57,0M0,-0.5L0,0.5", "M-1.57,0L1.57,0", "M-1.57,0L1.57,0", "M-1.57,0L1.57,0M0,-0.5L0,0.5", "M-1.57,0L1.57,0", "M-1.57,0L1.57,0", "M-1.57,0L1.57,0", "M-1.57,0L1.57,0", "M-1.57,0L1.57,0M0.35,0A0.35,0.35,0,1,1,-0.35,0A0.35,0.35,0,1,1,0.35,0M0.14,0A0.14,0.14,0,1,1,-0.14,0A0.14,0.14,0,1,1,0.14,0"]}, "legend": {"title": null}}
     }}
  ]
}
],
"resolve": {"scale": {"color": "independent", "shape": "independent", "stroke": "independent"}, "legend": {"color": "independent", "shape": "independent"}}
}
